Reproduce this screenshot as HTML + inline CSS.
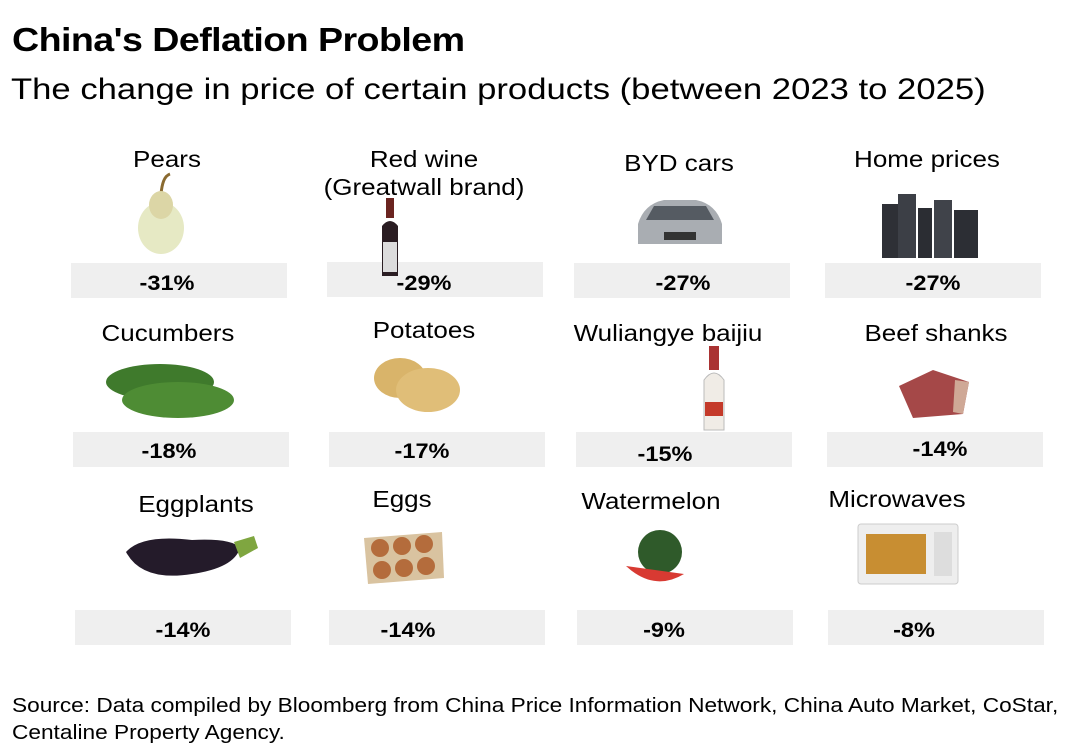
<!DOCTYPE html>
<html><head><meta charset="utf-8"><style>
body{margin:0;width:1080px;height:756px;background:#fff;font-family:"Liberation Sans",sans-serif;color:#000;position:relative;overflow:hidden}
.a{position:absolute;white-space:nowrap;transform-origin:0 0}
.t{position:absolute;font-size:23px;text-align:center;width:300px;line-height:28px;transform:scaleX(1.13)}
.b{position:absolute;background:#efefef;height:35px;width:216px}
.v{position:absolute;font-size:21px;font-weight:bold;width:120px;text-align:center;transform:scaleX(1.12)}
svg{position:absolute}
</style></head><body>
<div class="a" style="left:12px;top:21px;font-size:33px;font-weight:bold;letter-spacing:-0.5px;transform:scaleX(1.14)">China's Deflation Problem</div>
<div class="a" style="left:11px;top:73px;font-size:30px;transform:scaleX(1.155)">The change in price of certain products (between 2023 to 2025)</div>

<!-- row1 -->
<div class="t" style="left:17px;top:145px">Pears</div>
<div class="t" style="left:274px;top:145px">Red wine<br>(Greatwall brand)</div>
<div class="t" style="left:529px;top:149px">BYD cars</div>
<div class="t" style="left:777px;top:145px">Home prices</div>
<div class="b" style="left:71px;top:263px"></div>
<div class="b" style="left:327px;top:262px"></div>
<div class="b" style="left:574px;top:263px"></div>
<div class="b" style="left:825px;top:263px"></div>
<svg style="left:130px;top:170px" width="60" height="90"><path d="M40 4 C34 6 32 14 31 24" stroke="#8a6a30" stroke-width="3" fill="none"/><ellipse cx="31" cy="58" rx="23" ry="26" fill="#e6e9c4"/><ellipse cx="31" cy="35" rx="12" ry="14" fill="#dcd6a6"/></svg>
<svg style="left:378px;top:198px" width="24" height="80"><rect x="8" y="0" width="8" height="20" fill="#6b2420"/><path d="M4 28 Q12 18 20 28 V78 H4Z" fill="#2a1d22"/><rect x="5" y="44" width="14" height="30" fill="#dcdcdc"/></svg>
<svg style="left:634px;top:192px" width="92" height="58"><path d="M4 32 Q10 12 30 8 H62 Q82 12 88 32 V52 H4Z" fill="#a9adb2"/><path d="M20 14 H72 L80 28 H12Z" fill="#555b62"/><rect x="30" y="40" width="32" height="8" fill="#333"/></svg>
<svg style="left:878px;top:190px" width="106" height="68"><rect x="4" y="14" width="16" height="54" fill="#2e3036"/><rect x="20" y="4" width="18" height="64" fill="#3c3f46"/><rect x="40" y="18" width="14" height="50" fill="#2b2d33"/><rect x="56" y="10" width="18" height="58" fill="#40434a"/><rect x="76" y="20" width="24" height="48" fill="#2c2e34"/></svg>
<div class="v" style="left:107px;top:272px">-31%</div>
<div class="v" style="left:364px;top:272px">-29%</div>
<div class="v" style="left:623px;top:272px">-27%</div>
<div class="v" style="left:873px;top:272px">-27%</div>

<!-- row2 -->
<div class="t" style="left:18px;top:319px">Cucumbers</div>
<div class="t" style="left:274px;top:316px">Potatoes</div>
<div class="t" style="left:518px;top:319px">Wuliangye baijiu</div>
<div class="t" style="left:786px;top:319px">Beef shanks</div>
<div class="b" style="left:73px;top:432px"></div>
<div class="b" style="left:329px;top:432px"></div>
<div class="b" style="left:576px;top:432px"></div>
<div class="b" style="left:827px;top:432px"></div>
<svg style="left:102px;top:356px" width="134" height="66"><ellipse cx="58" cy="26" rx="54" ry="18" fill="#3f7a2c"/><ellipse cx="76" cy="44" rx="56" ry="18" fill="#4e8c34"/></svg>
<svg style="left:370px;top:352px" width="92" height="62"><ellipse cx="30" cy="26" rx="26" ry="20" fill="#d9b46a"/><ellipse cx="58" cy="38" rx="32" ry="22" fill="#e0be78"/></svg>
<svg style="left:698px;top:346px" width="32" height="86"><rect x="11" y="0" width="10" height="24" fill="#a33"/><path d="M6 34 Q16 20 26 34 V84 H6Z" fill="#f0ece6" stroke="#bbb"/><rect x="7" y="56" width="18" height="14" fill="#c43a2a"/></svg>
<svg style="left:893px;top:366px" width="82" height="54"><path d="M6 20 L40 4 L76 16 L70 48 L20 52 Z" fill="#a54848"/><path d="M62 14 L76 16 L70 48 L60 46Z" fill="#cfa896"/></svg>
<div class="v" style="left:109px;top:440px">-18%</div>
<div class="v" style="left:362px;top:440px">-17%</div>
<div class="v" style="left:605px;top:443px">-15%</div>
<div class="v" style="left:880px;top:438px">-14%</div>

<!-- row3 -->
<div class="t" style="left:46px;top:490px">Eggplants</div>
<div class="t" style="left:252px;top:485px">Eggs</div>
<div class="t" style="left:501px;top:487px">Watermelon</div>
<div class="t" style="left:747px;top:485px">Microwaves</div>
<div class="b" style="left:75px;top:610px"></div>
<div class="b" style="left:329px;top:610px"></div>
<div class="b" style="left:577px;top:610px"></div>
<div class="b" style="left:828px;top:610px"></div>
<svg style="left:122px;top:528px" width="138" height="56"><path d="M4 24 Q20 6 70 12 Q110 10 118 20 Q112 40 70 46 Q20 54 4 24Z" fill="#241b2a"/><path d="M112 14 L132 8 L136 20 L118 30Z" fill="#7fa640"/></svg>
<svg style="left:362px;top:528px" width="84" height="58"><path d="M2 10 L80 4 L82 50 L6 56Z" fill="#d9c3a0"/><g fill="#b46c3c"><circle cx="18" cy="20" r="9"/><circle cx="40" cy="18" r="9"/><circle cx="62" cy="16" r="9"/><circle cx="20" cy="42" r="9"/><circle cx="42" cy="40" r="9"/><circle cx="64" cy="38" r="9"/></g></svg>
<svg style="left:624px;top:528px" width="74" height="62"><circle cx="36" cy="24" r="22" fill="#2f5a2a"/><path d="M2 38 Q30 64 60 46 Z" fill="#d83a32"/></svg>
<svg style="left:856px;top:522px" width="104" height="64"><rect x="2" y="2" width="100" height="60" rx="3" fill="#eee" stroke="#ccc"/><rect x="10" y="12" width="60" height="40" fill="#c88e32"/><rect x="78" y="10" width="18" height="44" fill="#ddd"/></svg>
<div class="v" style="left:123px;top:619px">-14%</div>
<div class="v" style="left:348px;top:619px">-14%</div>
<div class="v" style="left:604px;top:619px">-9%</div>
<div class="v" style="left:854px;top:619px">-8%</div>

<div class="a" style="left:12px;top:692px;font-size:20.5px;line-height:27px;transform:scaleX(1.105)">Source: Data compiled by Bloomberg from China Price Information Network, China Auto Market, CoStar,<br>Centaline Property Agency.</div>
</body></html>
